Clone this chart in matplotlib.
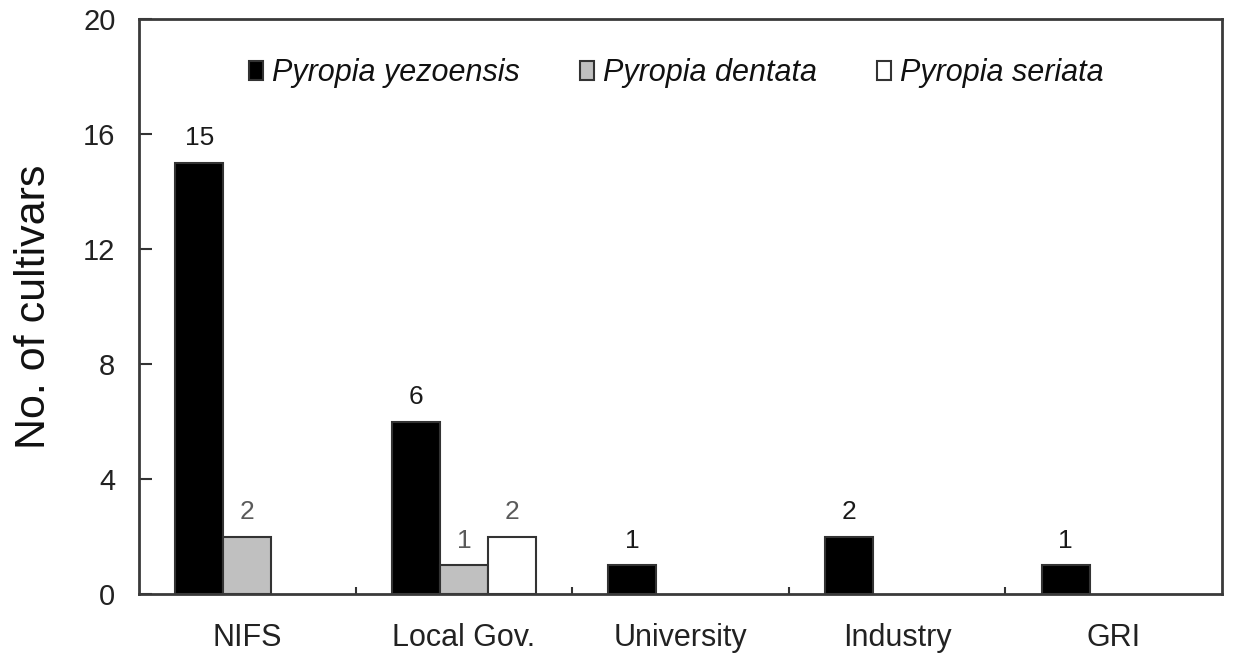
import matplotlib
matplotlib.use("Agg")
import matplotlib.pyplot as plt
import numpy as np
from matplotlib.ticker import FixedLocator
from matplotlib.patches import Patch

plt.rcParams['font.family'] = ['Liberation Sans', 'DejaVu Sans']

categories = ["NIFS", "Local Gov.", "University", "Industry", "GRI"]
series_names = ["Pyropia yezoensis", "Pyropia dentata", "Pyropia seriata"]
yezoensis = [15, 6, 1, 2, 1]
dentata = [2, 1, 0, 0, 0]
seriata = [0, 2, 0, 0, 0]
y_ticks = [0, 4, 8, 12, 16, 20]

series = [yezoensis, dentata, seriata]
fills = ["#000000", "#c0c0c0", "#ffffff"]
label_colors = ["#1a1a1a", "#5a5a5a", "#5a5a5a"]

fig = plt.figure(figsize=(12.46, 6.59), dpi=100)
ax = fig.add_axes([0.1116, 0.0986, 0.9807 - 0.1116, 0.9712 - 0.0986])

x = np.arange(len(categories))
w = 0.222
offsets = [-w, 0, w]
handles = []
for vals, fc, lc, off, name in zip(series, fills, label_colors, offsets, series_names):
    bars = ax.bar(x + off, vals, width=w, color=fc, edgecolor="#333333",
                  linewidth=1.5)
    handles.append(Patch(facecolor=fc, edgecolor="#333333", linewidth=1.5, label=name))
    for b, v in zip(bars, vals):
        if v > 0:
            ax.annotate(str(v), (b.get_x() + b.get_width() / 2, v),
                        xytext=(0, 9), textcoords="offset points",
                        ha="center", va="bottom", fontsize=19, color=lc)
        else:
            b.set_linewidth(0)

ax.set_xlim(-0.5, len(categories) - 0.5)
ax.set_ylim(0, 20)
ax.set_yticks(y_ticks)
ax.set_xticks(x)
ax.set_xticklabels(categories, fontsize=22, color="#222222")
ax.tick_params(axis="x", length=0, pad=21)
ax.xaxis.set_minor_locator(FixedLocator(np.arange(0.5, len(categories) - 1, 1.0)))
ax.tick_params(axis="x", which="minor", direction="in", length=5, width=1.5, color="#333333")
ax.tick_params(axis="y", direction="in", length=9, width=1.5, color="#333333",
               labelsize=21, labelcolor="#222222", pad=17)
ax.set_ylabel("No. of cultivars", fontsize=31, color="#111111", labelpad=21)
for s in ax.spines.values():
    s.set_linewidth(2.0)
    s.set_color("#3a3a3a")

leg = ax.legend(handles=handles, loc="center left", bbox_to_anchor=(0.1016, 0.906), ncol=3,
                frameon=False, borderaxespad=0, borderpad=0,
                prop={"size": 22, "style": "italic"}, handlelength=0.46, handleheight=0.59,
                handletextpad=0.3, columnspacing=1.96)
for t in leg.get_texts():
    t.set_color("#111111")

fig.savefig("out.png", dpi=100)
